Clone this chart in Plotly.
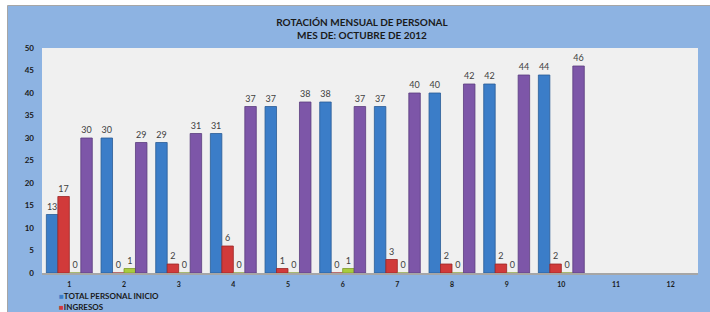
import plotly.graph_objects as go

categories = [str(i) for i in range(1, 13)]
series_names = ["TOTAL PERSONAL INICIO", "INGRESOS", "EGRESOS", "TOTAL PERSONAL FINAL"]
total_inicio = [13, 30, 29, 31, 37, 38, 37, 40, 42, 44, None, None]
ingresos = [17, 0, 2, 6, 1, 0, 3, 2, 2, 2, None, None]
egresos = [0, 1, 0, 0, 0, 1, 0, 0, 0, 0, None, None]
total_final = [30, 29, 31, 37, 38, 37, 40, 42, 44, 46, None, None]
y_ticks = [0, 5, 10, 15, 20, 25, 30, 35, 40, 45, 50]

colors = ["#3B7DC8", "#D13A3A", "#A9CC3E", "#7D56A8"]
edge_colors = ["#2A5C96", "#9A2626", "#7F9A2A", "#5A3D7E"]
values = [total_inicio, ingresos, egresos, total_final]

W, H = 710, 312
L, R, T, B = 42, 12, 48, 39
pw, ph = W - L - R, H - T - B


def px_x(p):
    return (p - L) / pw


def px_y(p):
    return (H - B - p) / ph


fig = go.Figure()
for name, vals, c, ec in zip(series_names, values, colors, edge_colors):
    fig.add_trace(go.Bar(
        x=categories, y=vals, name=name,
        marker=dict(color=c, line=dict(color=ec, width=0.8)),
        text=[("" if v is None else str(v)) for v in vals],
        textposition="outside",
        textfont=dict(family="Lato", size=9, color="#404040"),
        cliponaxis=False,
        showlegend=False,
    ))

shapes = [
    dict(type="rect", xref="paper", yref="paper",
         x0=px_x(7.5), x1=px_x(730), y0=px_y(330), y1=px_y(5.5),
         fillcolor="#8DB3E2", line=dict(color="#A6A6A6", width=1), layer="below"),
    dict(type="rect", xref="paper", yref="paper",
         x0=0, x1=1, y0=0, y1=1,
         fillcolor="#F0F0F0", line=dict(width=0), layer="below"),
]

annotations = []
legend_rows = [296, 307]
for i, yy in enumerate(legend_rows):
    annotations.append(dict(
        xref="paper", yref="paper", x=px_x(57), y=px_y(yy),
        xanchor="left", yanchor="middle", showarrow=False,
        text=f'<b><span style="color:{colors[i]}">■</span>{series_names[i]}</b>',
        font=dict(family="Lato", size=8, color="#1a1a1a"),
    ))

fig.update_layout(
    width=W, height=H, autosize=False,
    margin=dict(l=L, r=R, t=T, b=B),
    paper_bgcolor="white", plot_bgcolor="#F0F0F0",
    barmode="group", bargap=0.16, bargroupgap=0,
    title=dict(
        text="<b>ROTACIÓN MENSUAL DE PERSONAL<br>MES DE: OCTUBRE DE 2012</b>",
        x=px_x(362), xref="paper", xanchor="center",
        y=1 - 25.5 / H, yref="container", yanchor="middle",
        font=dict(family="Lato", size=10, color="#1a1a1a"),
    ),
    xaxis=dict(
        type="category", showgrid=False, zeroline=False,
        showline=True, linecolor="#A6A6A6", linewidth=2,
        tickfont=dict(family="Lato", size=7, color="#1a1a1a", weight="bold"),
        ticks="", ticklabelstandoff=4,
    ),
    yaxis=dict(
        range=[0, 50], tickvals=y_ticks, showgrid=False, zeroline=False,
        showline=False,
        tickfont=dict(family="Lato", size=8, color="#1a1a1a", weight="bold"),
        ticks="", ticklabelstandoff=7,
    ),
    shapes=shapes,
    annotations=annotations,
    showlegend=False,
)

fig.write_html(
    "out.html",
    config={"displayModeBar": False},
    post_script="document.body.style.margin='0';document.body.style.overflow='hidden';",
)
